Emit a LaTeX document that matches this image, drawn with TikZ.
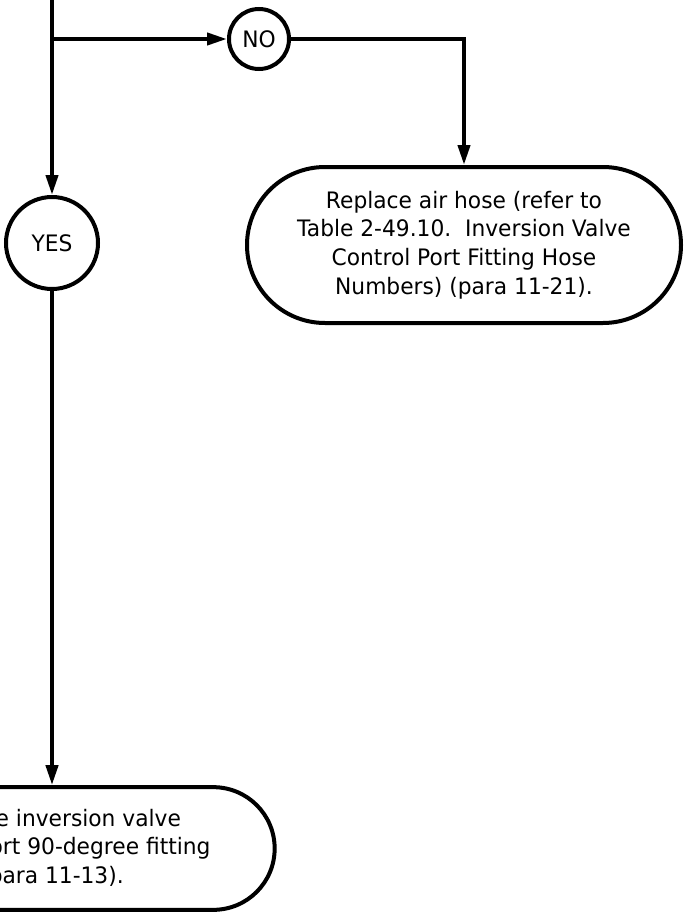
\documentclass[tikz,border=0pt]{standalone}
\usepackage{fontspec}
\setmainfont{DejaVu Sans}[FakeStretch=0.96]
\usetikzlibrary{arrows.meta}
\begin{document}
\begin{tikzpicture}[x=0.75pt, y=-0.75pt, line width=3pt,
    every node/.style={font=\fontsize{17}{21.5}\selectfont},
    answer/.style={draw, circle, inner sep=0pt},
    action/.style={draw, rectangle, align=center, inner sep=0pt},
    flow/.style={-{Triangle[length=15pt,width=9pt]}}]
    \useasboundingbox (0,0) rectangle (690,914);
    \coordinate (top) at (52,0);
    \coordinate (split) at (52,39);
    \node[answer, minimum size=45pt] (no) at (259,39) {NO};
    \node[answer, minimum size=69pt] (yes) at (52,243) {YES};
    \node[action, minimum width=325.5pt, minimum height=117pt, rounded corners=58.5pt] (hose) at (464,245)
        {Replace air hose (refer to\\Table 2-49.10.\ \ Inversion Valve\\Control Port Fitting Hose\\Numbers) (para 11-21).};
    \node[action, minimum width=334pt, minimum height=92pt, rounded corners=46pt] (fitting) at (52,848.5)
        {\phantom{Replac}e inversion valve\\\phantom{control p}ort 90-degree fitting\\\phantom{(}para 11-13).};
    \draw[flow] (top) -- (yes);
    \draw[flow] (split) -- (no);
    \draw[flow] (no) -| (hose);
    \draw[flow] (yes) -- (fitting);
\end{tikzpicture}
\end{document}
